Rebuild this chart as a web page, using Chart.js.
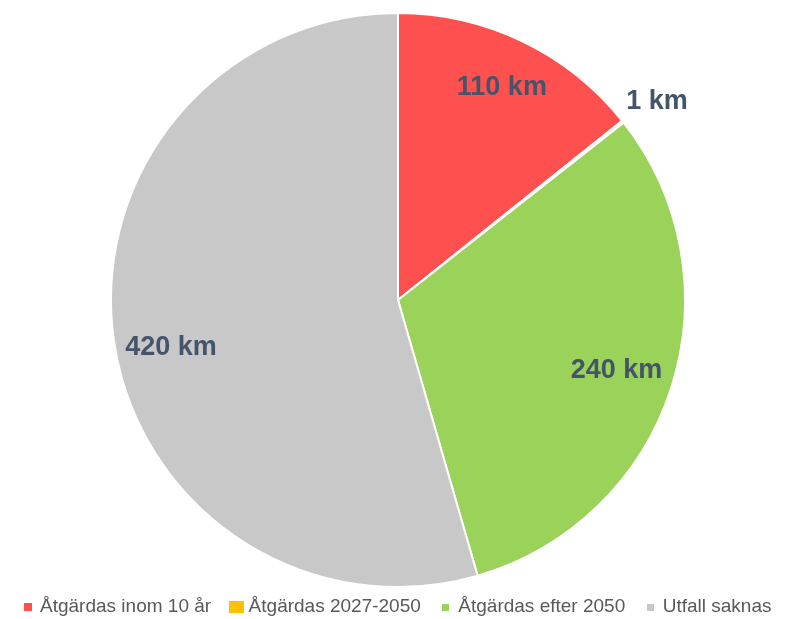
<!DOCTYPE html>
<html><head><meta charset="utf-8">
<script src="https://cdn.jsdelivr.net/npm/chart.js@4/dist/chart.umd.min.js"></script>
<style>html,body{margin:0;padding:0;background:#fff;overflow:hidden}#wrap{width:800px;height:619px}</style>
</head><body><div id="wrap"><canvas id="c"></canvas></div>
<script>
const categories = ["Åtgärdas inom 10 år", "Åtgärdas 2027-2050", "Åtgärdas efter 2050", "Utfall saknas"];
const values = [110, 1, 240, 420];
const valueLabels = ["110 km", "1 km", "240 km", "420 km"];
const colors = ["#FF5050", "#FFC000", "#9BD35A", "#C8C8C8"];

// label placement (radius fraction, angle tweak in degrees)
const labelRadius = [0.823, 1.136, 0.80, 0.808];
const labelAngleAdj = [0.4, 1.0, 0, -3.8];
const legendMarkerSize = [[8, 8], [15, 12], [7, 7], [7, 7]];

function markerCanvas(color, w, h) {
  const c = document.createElement('canvas');
  c.width = w; c.height = h;
  const g = c.getContext('2d');
  g.fillStyle = color; g.fillRect(0, 0, w, h);
  return c;
}

const labelPlugin = {
  id: 'sliceLabels',
  afterDatasetsDraw(chart) {
    const ctx = chart.ctx;
    const meta = chart.getDatasetMeta(0);
    ctx.save();
    ctx.font = "bold 27px 'Liberation Sans'";
    ctx.fillStyle = "#44546A";
    ctx.textAlign = "center";
    ctx.textBaseline = "middle";
    meta.data.forEach((arc, i) => {
      const p = arc.getProps(['x','y','startAngle','endAngle','outerRadius'], true);
      const a = (p.startAngle + p.endAngle) / 2 + labelAngleAdj[i] * Math.PI / 180;
      const r = p.outerRadius * labelRadius[i];
      ctx.fillText(valueLabels[i], p.x + Math.cos(a) * r, p.y + Math.sin(a) * r);
    });
    ctx.restore();
  }
};

new Chart(document.getElementById('c'), {
  type: 'pie',
  data: {
    labels: categories,
    datasets: [{ data: values, backgroundColor: colors, borderColor: "#ffffff", borderWidth: 2, radius: 287 }]
  },
  options: {
    responsive: true,
    maintainAspectRatio: false,
    animation: false,
    layout: { padding: { top: 24.5, bottom: 0, left: 0, right: 4 } },
    plugins: {
      tooltip: { enabled: false },
      legend: {
        position: 'bottom',
        maxHeight: 43.5,
        labels: {
          color: "#595959",
          font: { family: "'Liberation Sans'", size: 19 },
          boxWidth: 6, boxHeight: 6, padding: 22,
          usePointStyle: true,
          generateLabels(chart) {
            return categories.map((t, i) => ({
              text: t,
              fillStyle: colors[i],
              strokeStyle: colors[i],
              lineWidth: 0,
              hidden: false,
              index: i,
              fontColor: "#595959",
              pointStyle: markerCanvas(colors[i], legendMarkerSize[i][0], legendMarkerSize[i][1])
            }));
          }
        }
      }
    }
  },
  plugins: [labelPlugin]
});
</script></body></html>
